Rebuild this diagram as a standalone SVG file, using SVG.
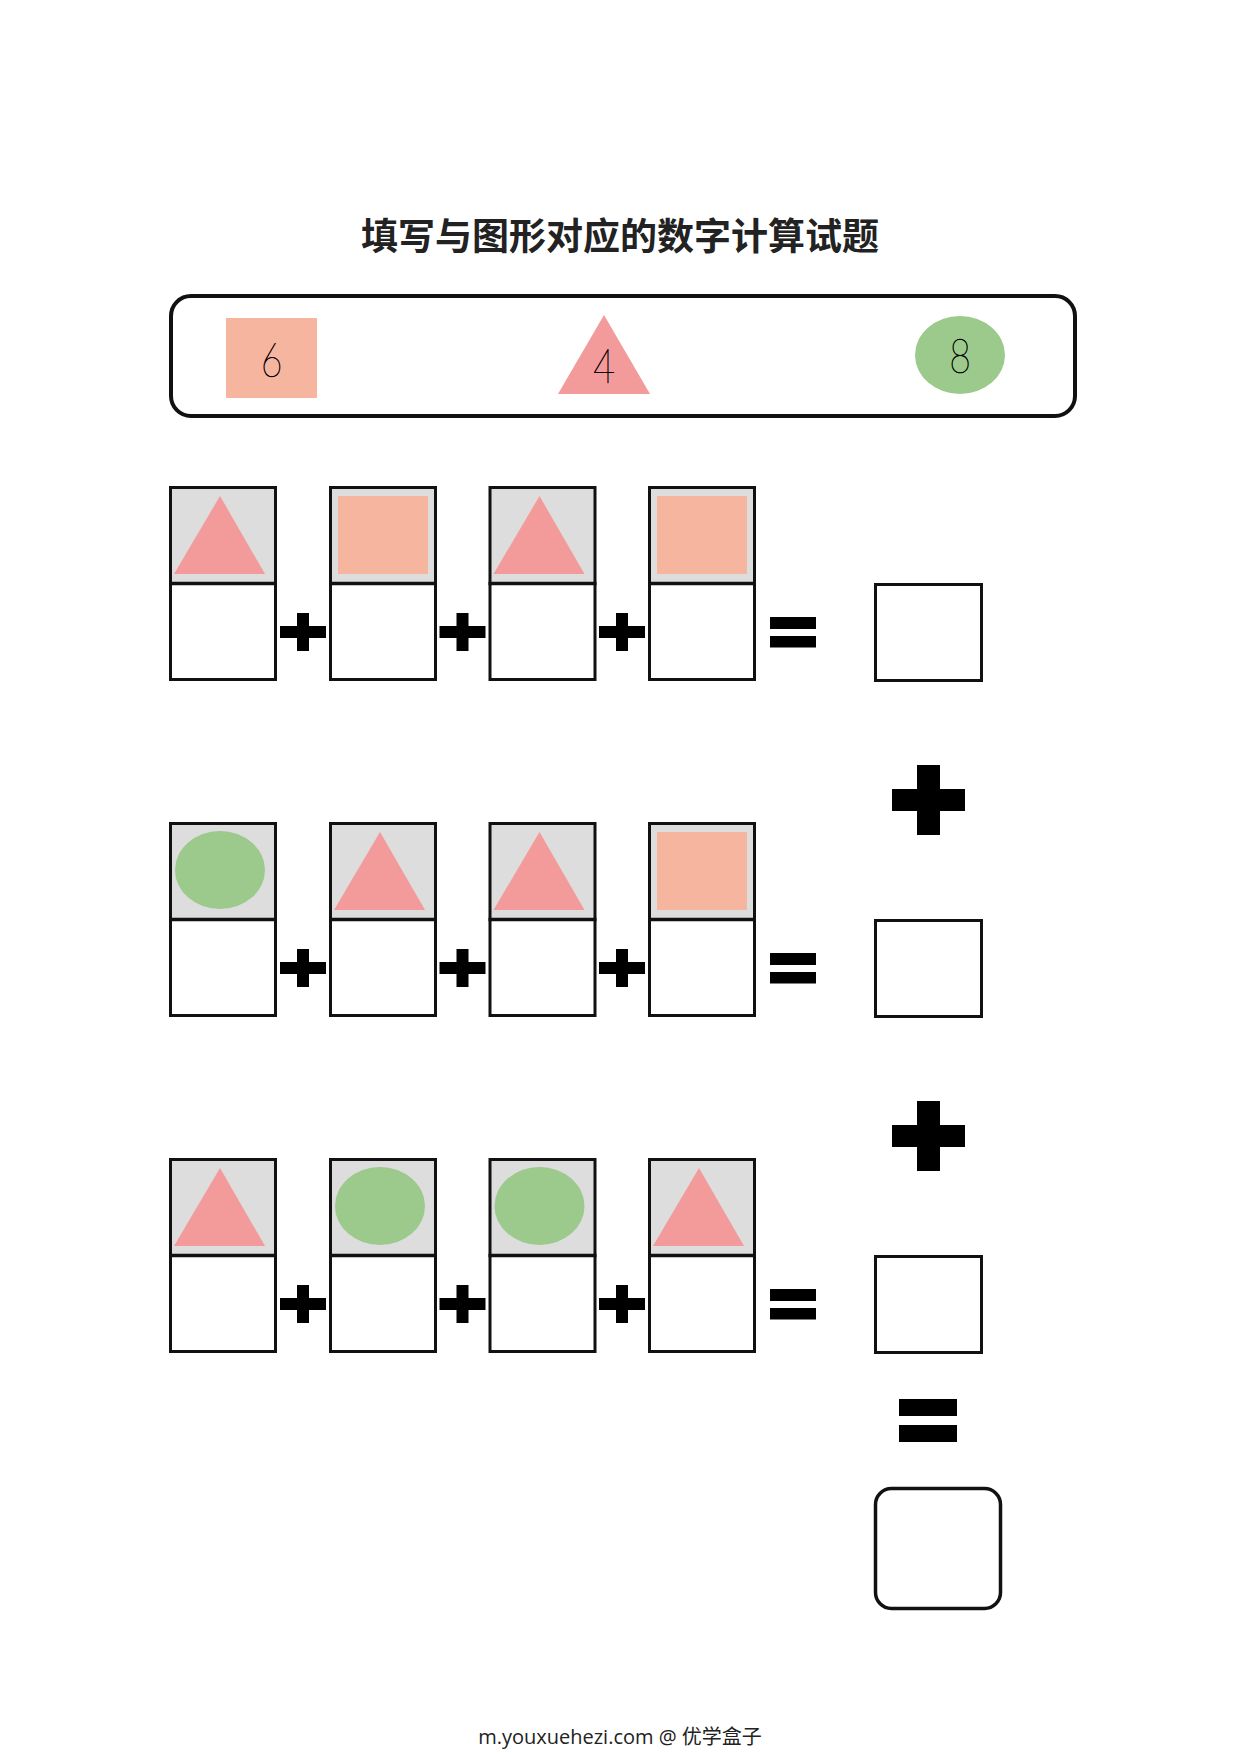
<svg xmlns="http://www.w3.org/2000/svg" xmlns:xlink="http://www.w3.org/1999/xlink" width="1240" height="1754" viewBox="0 0 1240 1754">
  <style>
    .tri { fill: #f39a9a; }
    .sq { fill: #f6b59e; }
    .ell { fill: #9cc98c; }
    .top { fill: #dcdddc; }
    .frame { fill: none; stroke: #111; stroke-width: 3; }
    .op { fill: #000; }
    .digit { font-family: "Lato", "DejaVu Sans", "Liberation Sans", sans-serif; font-weight: 200; font-size: 48px; fill: #000; stroke: #000; stroke-width: 0.6; text-anchor: middle; }
    .title { font-family: "Noto Sans CJK SC", "Noto Sans", sans-serif; font-weight: 700; font-size: 37px; fill: #222; text-anchor: middle; }
    .footer { font-family: "Open Sans", "Noto Sans CJK SC", sans-serif; font-size: 20px; fill: #222; text-anchor: middle; }
  </style>
  <defs>
    <polygon id="shape-tri" class="tri" points="51,10 5,88 96,88"/>
    <rect id="shape-sq" class="sq" x="9" y="10" width="90" height="78"/>
    <ellipse id="shape-ell" class="ell" cx="51" cy="48" rx="45" ry="39"/>
    <g id="card-base">
      <rect class="top" x="1.5" y="1.5" width="105" height="96"/>
    </g>
    <g id="card-frame">
      <rect class="frame" x="1.5" y="1.5" width="105" height="192"/>
      <line x1="0" y1="97.5" x2="108" y2="97.5" stroke="#111" stroke-width="3.5"/>
    </g>
    <g id="plus-small">
      <rect x="-23" y="-6" width="46" height="12"/>
      <rect x="-6" y="-19" width="12" height="38"/>
    </g>
    <g id="equals">
      <rect x="0" y="131" width="46" height="12"/>
      <rect x="0" y="150" width="46" height="11.5"/>
    </g>
    <g id="plus-big">
      <rect x="-36.5" y="-11" width="73" height="22"/>
      <rect x="-11.5" y="-35" width="23" height="70"/>
    </g>
  </defs>

  <rect x="0" y="0" width="1240" height="1754" fill="#fff"/>

  <g id="title">
    <text class="title" x="620" y="250">填写与图形对应的数字计算试题</text>
  </g>

  <g id="legend">
    <rect x="171" y="296" width="904" height="120" rx="20" ry="20" fill="none" stroke="#111" stroke-width="4"/>
    <g id="legend-square">
      <rect class="sq" x="226" y="318" width="91" height="80"/>
      <text class="digit" transform="translate(271.5,377) scale(0.78,1)">6</text>
    </g>
    <g id="legend-triangle">
      <polygon class="tri" points="604,315 558,394 650,394"/>
      <text class="digit" transform="translate(604,383) scale(0.78,1)">4</text>
    </g>
    <g id="legend-circle">
      <ellipse class="ell" cx="960" cy="355" rx="45" ry="39"/>
      <text class="digit" transform="translate(960,373) scale(0.78,1)">8</text>
    </g>
  </g>

  <!-- Row 1 -->
  <g id="row1-card1" transform="translate(169,486)"><use xlink:href="#card-base"/><use xlink:href="#shape-tri"/><use xlink:href="#card-frame"/></g>
  <g id="row1-card2" transform="translate(329,486)"><use xlink:href="#card-base"/><use xlink:href="#shape-sq"/><use xlink:href="#card-frame"/></g>
  <g id="row1-card3" transform="translate(488.5,486)"><use xlink:href="#card-base"/><use xlink:href="#shape-tri"/><use xlink:href="#card-frame"/></g>
  <g id="row1-card4" transform="translate(648,486)"><use xlink:href="#card-base"/><use xlink:href="#shape-sq"/><use xlink:href="#card-frame"/></g>
  <g id="row1-answer"><rect class="frame" x="875.5" y="584.5" width="106" height="96"/></g>

  <!-- Row 2 -->
  <g id="row2-card1" transform="translate(169,822)"><use xlink:href="#card-base"/><use xlink:href="#shape-ell"/><use xlink:href="#card-frame"/></g>
  <g id="row2-card2" transform="translate(329,822)"><use xlink:href="#card-base"/><use xlink:href="#shape-tri"/><use xlink:href="#card-frame"/></g>
  <g id="row2-card3" transform="translate(488.5,822)"><use xlink:href="#card-base"/><use xlink:href="#shape-tri"/><use xlink:href="#card-frame"/></g>
  <g id="row2-card4" transform="translate(648,822)"><use xlink:href="#card-base"/><use xlink:href="#shape-sq"/><use xlink:href="#card-frame"/></g>
  <g id="row2-answer"><rect class="frame" x="875.5" y="920.5" width="106" height="96"/></g>

  <!-- Row 3 -->
  <g id="row3-card1" transform="translate(169,1158)"><use xlink:href="#card-base"/><use xlink:href="#shape-tri"/><use xlink:href="#card-frame"/></g>
  <g id="row3-card2" transform="translate(329,1158)"><use xlink:href="#card-base"/><use xlink:href="#shape-ell"/><use xlink:href="#card-frame"/></g>
  <g id="row3-card3" transform="translate(488.5,1158)"><use xlink:href="#card-base"/><use xlink:href="#shape-ell"/><use xlink:href="#card-frame"/></g>
  <g id="row3-card4" transform="translate(648,1158)"><use xlink:href="#card-base"/><use xlink:href="#shape-tri"/><use xlink:href="#card-frame"/></g>
  <g id="row3-answer"><rect class="frame" x="875.5" y="1256.5" width="106" height="96"/></g>

  <g id="final-answer"><rect x="875.5" y="1488.5" width="125" height="120" rx="16" ry="16" fill="none" stroke="#111" stroke-width="3.5"/></g>

  <g id="operators" class="op">
    <use xlink:href="#plus-small" transform="translate(303,632)"/>
    <use xlink:href="#plus-small" transform="translate(462.5,632)"/>
    <use xlink:href="#plus-small" transform="translate(622,632)"/>
    <use xlink:href="#equals" transform="translate(770,486)"/>
    <use xlink:href="#plus-small" transform="translate(303,968)"/>
    <use xlink:href="#plus-small" transform="translate(462.5,968)"/>
    <use xlink:href="#plus-small" transform="translate(622,968)"/>
    <use xlink:href="#equals" transform="translate(770,822)"/>
    <use xlink:href="#plus-small" transform="translate(303,1304)"/>
    <use xlink:href="#plus-small" transform="translate(462.5,1304)"/>
    <use xlink:href="#plus-small" transform="translate(622,1304)"/>
    <use xlink:href="#equals" transform="translate(770,1158)"/>
    <use xlink:href="#plus-big" transform="translate(928.5,800)"/>
    <use xlink:href="#plus-big" transform="translate(928.5,1136)"/>
    <rect x="899" y="1399" width="58" height="17"/>
    <rect x="899" y="1425" width="58" height="17"/>
  </g>

  <g id="footer">
    <text class="footer" x="620" y="1744">m.youxuehezi.com @ 优学盒子</text>
  </g>
</svg>
